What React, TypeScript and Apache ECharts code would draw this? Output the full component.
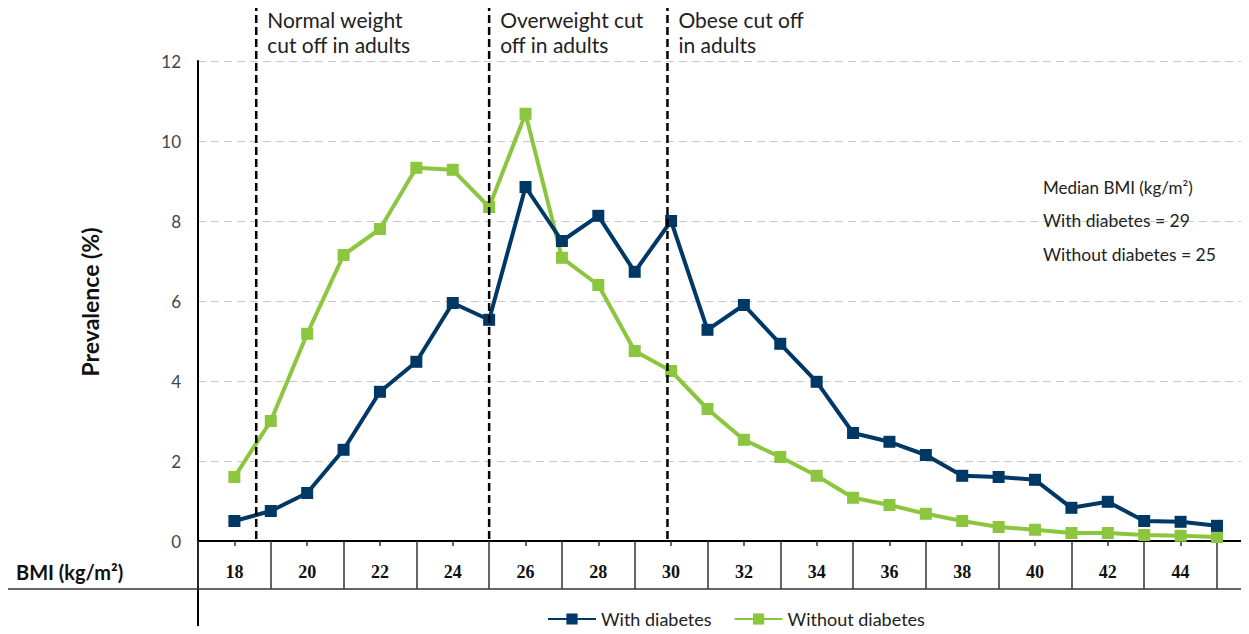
import React, { useEffect, useRef } from "react";
import * as echarts from "echarts";

const bmi = [18, 19, 20, 21, 22, 23, 24, 25, 26, 27, 28, 29, 30, 31, 32, 33, 34, 35, 36, 37, 38, 39, 40, 41, 42, 43, 44, 45];
const withDiabetes = [0.5, 0.75, 1.2, 2.28, 3.73, 4.48, 5.95, 5.53, 8.85, 7.5, 8.13, 6.73, 8.0, 5.28, 5.9, 4.93, 3.98, 2.7, 2.48, 2.15, 1.63, 1.6, 1.53, 0.83, 0.98, 0.5, 0.48, 0.38];
const withoutDiabetes = [1.6, 3.0, 5.18, 7.15, 7.8, 9.33, 9.28, 8.35, 10.68, 7.08, 6.4, 4.75, 4.25, 3.3, 2.53, 2.1, 1.63, 1.08, 0.9, 0.68, 0.5, 0.35, 0.28, 0.2, 0.2, 0.15, 0.13, 0.1];
const xLabelValues = [18, 20, 22, 24, 26, 28, 30, 32, 34, 36, 38, 40, 42, 44];
const cellBorders = [17, 19, 21, 23, 25, 27, 29, 31, 33, 35, 37, 39, 41, 43, 45];
const cutoffs = [18.6, 25, 29.9];
const cutoffLabels = ["Normal weight\ncut off in adults", "Overweight cut\noff in adults", "Obese cut off\nin adults"];
const medianLines = ["Median BMI (kg/m²)", "With diabetes = 29", "Without diabetes = 25"];

const SANS = "Lato, 'Open Sans', sans-serif";
const SERIF = "'Liberation Serif', 'DejaVu Serif', serif";
const NAVY = "#003865";
const GREEN = "#8cc63f";

export default function App() {
  const ref = useRef<HTMLDivElement>(null);
  useEffect(() => {
    if (!ref.current) return;
    const chart = echarts.init(ref.current, null, { renderer: "svg" });
    const option: any = {
      animation: false,
      backgroundColor: "#ffffff",
      grid: { left: 198, top: 61, right: 0, height: 480, containLabel: false },
      legend: {
        left: 542,
        top: 605,
        itemWidth: 48,
        itemHeight: 14,
        itemGap: 22,
        textStyle: { fontSize: 18, color: "#222", fontFamily: SANS },
        data: ["With diabetes", "Without diabetes"],
      },
      xAxis: [
        {
          type: "value",
          min: 17,
          max: 45.88,
          position: "bottom",
          axisLine: { show: true, onZero: false, lineStyle: { color: "#000", width: 2 } },
          axisTick: { show: true, length: 5, customValues: xLabelValues, lineStyle: { color: "#333", width: 1.5 } },
          axisLabel: {
            customValues: xLabelValues,
            formatter: (v: number) => String(v),
            margin: 22,
            fontFamily: SERIF,
            fontWeight: "bold",
            fontSize: 18,
            color: "#111",
          },
          splitLine: { show: false },
        },
        {
          type: "value",
          min: 17,
          max: 45.88,
          position: "bottom",
          axisLine: { show: false, onZero: false },
          axisTick: { show: true, length: 48, customValues: cellBorders, lineStyle: { color: "#333", width: 1.5 } },
          axisLabel: { show: false },
          splitLine: { show: false },
        },
      ],
      yAxis: {
        type: "value",
        min: 0,
        max: 12,
        interval: 2,
        axisLine: { show: true, lineStyle: { color: "#000", width: 2 } },
        axisTick: { show: false },
        axisLabel: { fontSize: 17, color: "#444", margin: 17, fontFamily: SANS },
        splitLine: { lineStyle: { type: [8, 5], color: "#c8c8c8", width: 1 } },
      },
      series: [
        {
          name: "With diabetes",
          type: "line",
          xAxisIndex: 0,
          data: bmi.map((b, i) => [b, withDiabetes[i]]),
          symbol: "rect",
          symbolSize: 12,
          color: NAVY,
          lineStyle: { width: 4, color: NAVY },
          itemStyle: { color: NAVY },
          z: 4,
        },
        {
          name: "Without diabetes",
          type: "line",
          xAxisIndex: 0,
          data: bmi.map((b, i) => [b, withoutDiabetes[i]]),
          symbol: "rect",
          symbolSize: 12,
          color: GREEN,
          lineStyle: { width: 4, color: GREEN },
          itemStyle: { color: GREEN },
          z: 3,
        },
      ],
    };
    chart.setOption(option);

    const axisY = chart.convertToPixel({ yAxisIndex: 0 }, 0) as number;
    const graphics: any[] = [
      { type: "line", shape: { x1: 198, y1: axisY, x2: 198, y2: 634 }, style: { stroke: "#000", lineWidth: 2 } },
      { type: "line", shape: { x1: 7, y1: 589, x2: 1249, y2: 589 }, style: { stroke: "#333", lineWidth: 1.5 } },
      {
        type: "text",
        x: 16,
        y: 572,
        style: { text: "BMI (kg/m²)", fontFamily: SANS, fontWeight: "bold", fontSize: 20, fill: "#111", textVerticalAlign: "middle" },
      },
      {
        type: "text",
        x: 90,
        y: 302,
        rotation: Math.PI / 2,
        style: { text: "Prevalence (%)", fontFamily: SANS, fontWeight: "bold", fontSize: 23, fill: "#111", textAlign: "center", textVerticalAlign: "middle" },
      },
    ];
    cutoffs.forEach((c, i) => {
      const px = chart.convertToPixel({ xAxisIndex: 0 }, c) as number;
      graphics.push({
        type: "line",
        shape: { x1: px, y1: 3, x2: px, y2: axisY },
        style: { stroke: "#000", lineWidth: 2.5, lineDash: [8, 4] },
        z: 10,
      });
      graphics.push({
        type: "text",
        x: px + 11,
        y: 7,
        style: { text: cutoffLabels[i], fontFamily: SANS, fontSize: 21, fill: "#222", lineHeight: 25, textVerticalAlign: "top" },
      });
    });
    const medianY = [187, 220, 254];
    medianLines.forEach((t, i) => {
      graphics.push({
        type: "text",
        x: 1043,
        y: medianY[i],
        style: { text: t, fontFamily: SANS, fontSize: i === 0 ? 17 : 17.5, fill: "#222", textVerticalAlign: "middle" },
      });
    });
    chart.setOption({ graphic: graphics });
    return () => chart.dispose();
  }, []);
  return <div ref={ref} style={{ width: 1249, height: 634, margin: -8 }} />;
}
